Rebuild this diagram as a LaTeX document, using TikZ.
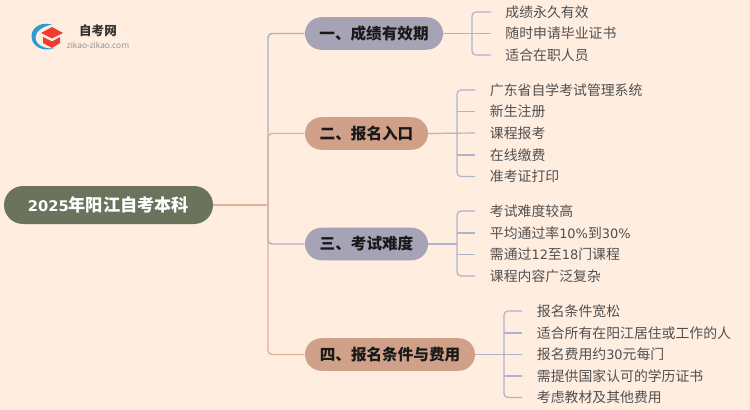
\documentclass[tikz,border=0pt]{standalone}
\usepackage{fontspec}
\setmainfont{Noto Sans CJK SC}
\newfontfamily\latinlogo{Open Sans}
\newfontfamily\widedigits{DejaVu Sans}
\newcommand{\leafdigits}[1]{{\widedigits\fontsize{9.7pt}{13pt}\selectfont #1}}
\definecolor{bgc}{HTML}{FFEDE0}
\definecolor{rootc}{HTML}{6B735C}
\definecolor{lav}{HTML}{A5A3B5}
\definecolor{sal}{HTML}{D0A088}
\definecolor{lnk}{HTML}{E0B39C}
\definecolor{lnl}{HTML}{AFB0C6}
\definecolor{lnk2}{HTML}{B0B3CB}
\definecolor{txt}{HTML}{505050}
\definecolor{logoblue}{HTML}{2A9BD8}
\definecolor{logored}{HTML}{EE3B33}
\usetikzlibrary{shapes.misc}
\tikzset{
  x=0.75pt,y=-0.75pt,
  rootnode/.style={rounded rectangle,fill=rootc,text=white,font=\fontsize{12.9pt}{15pt}\selectfont\bfseries,minimum width=156.75pt,minimum height=28.5pt,inner sep=0pt},
  branchnode/.style={rounded rectangle,text=black!90,font=\fontsize{11.7pt}{14pt}\selectfont\bfseries,minimum height=24.4pt,inner sep=0pt},
  leafnode/.style={anchor=west,text=txt,font=\fontsize{10.4pt}{13pt}\selectfont,inner ysep=0pt,inner xsep=11pt},
  lavlink/.style={draw=lnl,line width=1.1pt,rounded corners=3pt},
  sallink/.style={draw=lnk,line width=1.1pt,rounded corners=3pt},
  leaflink/.style={draw=lnk2,line width=0.9pt,rounded corners=3pt},
}
\begin{document}
\begin{tikzpicture}
\useasboundingbox[fill=bgc] (0,0) rectangle (750,410);
% root and branches
\node[rootnode] (root) at (108.5,205) {{\widedigits\fontsize{11pt}{15pt}\selectfont\bfseries 2025}年阳江自考本科};
\node[branchnode,fill=lav,minimum width=103.5pt] (b1) at (374,33.5) {一、成绩有效期};
\node[branchnode,fill=sal,minimum width=92.25pt] (b2) at (366.5,133.5) {二、报名入口};
\node[branchnode,fill=lav,minimum width=92.25pt] (b3) at (366.5,244) {三、考试难度};
\node[branchnode,fill=sal,minimum width=127.5pt] (b4) at (390,354.5) {四、报名条件与费用};
\coordinate (trunk) at (268,205);
\draw[sallink] (root.east) -- (trunk);
\draw[lavlink] (trunk) |- (b1.west);
\draw[lavlink] (trunk) |- (b3.west);
\draw[sallink] (trunk) |- (b2.west);
\draw[sallink] (trunk) |- (b4.west);
% leaves 1
\foreach \n/\y/\t in {a/12/成绩永久有效,b/33.5/随时申请毕业证书,c/55/适合在职人员}
  \node[leafnode] (l1\n) at (490.5,\y) {\t};
\coordinate (s1) at (472,33.5);
\draw[leaflink] (b1.east) -- (l1b.west);
\draw[leaflink] (l1a.west) -| (s1) |- (l1c.west);
% leaves 2
\foreach \n/\y/\t in {a/90/广东省自学考试管理系统,b/111.5/新生注册,c/133/课程报考,d/155/在线缴费,e/176.5/准考证打印}
  \node[leafnode] (l2\n) at (475,\y) {\t};
\coordinate (s2) at (457,133);
\draw[leaflink] (b2.east) -- (l2c.west);
\draw[leaflink] (l2a.west) -| (s2) |- (l2e.west);
\draw[leaflink] (s2 |- l2b.west) -- (l2b.west);
\draw[leaflink] (s2 |- l2d.west) -- (l2d.west);
% leaves 3
\node[leafnode] (l3a) at (475,211) {考试难度较高};
\node[leafnode] (l3b) at (475,233) {平均通过率\leafdigits{10\%}到\leafdigits{30\%}};
\node[leafnode] (l3c) at (475,254.5) {需通过\leafdigits{12}至\leafdigits{18}门课程};
\node[leafnode] (l3d) at (475,276) {课程内容广泛复杂};
\coordinate (s3) at (457,244);
\draw[leaflink] (b3.east) -- (s3);
\draw[leaflink] (l3a.west) -| (s3) |- (l3d.west);
\draw[leaflink] (s3 |- l3b.west) -- (l3b.west);
\draw[leaflink] (s3 |- l3c.west) -- (l3c.west);
% leaves 4
\node[leafnode] (l4a) at (522,311) {报名条件宽松};
\node[leafnode] (l4b) at (522,333) {适合所有在阳江居住或工作的人};
\node[leafnode] (l4c) at (522,354.5) {报名费用约\leafdigits{30}元每门};
\node[leafnode] (l4d) at (522,376) {需提供国家认可的学历证书};
\node[leafnode] (l4e) at (522,397.5) {考虑教材及其他费用};
\coordinate (s4) at (504,354.5);
\draw[leaflink] (b4.east) -- (l4c.west);
\draw[leaflink] (l4a.west) -| (s4) |- (l4e.west);
\draw[leaflink] (s4 |- l4b.west) -- (l4b.west);
\draw[leaflink] (s4 |- l4d.west) -- (l4d.west);
% logo
\fill[black!4] (66,38.8) rectangle (131,39.4);
\fill[logoblue] (52,24.5) .. controls (38,21) and (31,30) .. (31.5,37) .. controls (32,46) and (42,52) .. (54,48.5) .. controls (44,49) and (35.5,45) .. (35.5,37) .. controls (35.5,31) and (44,26) .. (52,24.5) -- cycle;
\fill[logored] (52,27) -- (63,33) -- (52,38.5) -- (41,33) -- cycle;
\fill[logored] (43,37) -- (52,41.5) -- (60,37) -- (60,43) -- (52,48) -- (43,43) -- cycle;
\node[font=\fontsize{9.4pt}{11pt}\selectfont\bfseries,text=black!80,inner sep=0pt] (logotitle) at (98,30.5) {自考网};
\node[font=\latinlogo\fontsize{6.3pt}{7pt}\selectfont,text=black!45,inner sep=0pt] (logourl) at (98,45) {zikao-zikao.com};
\end{tikzpicture}
\end{document}
